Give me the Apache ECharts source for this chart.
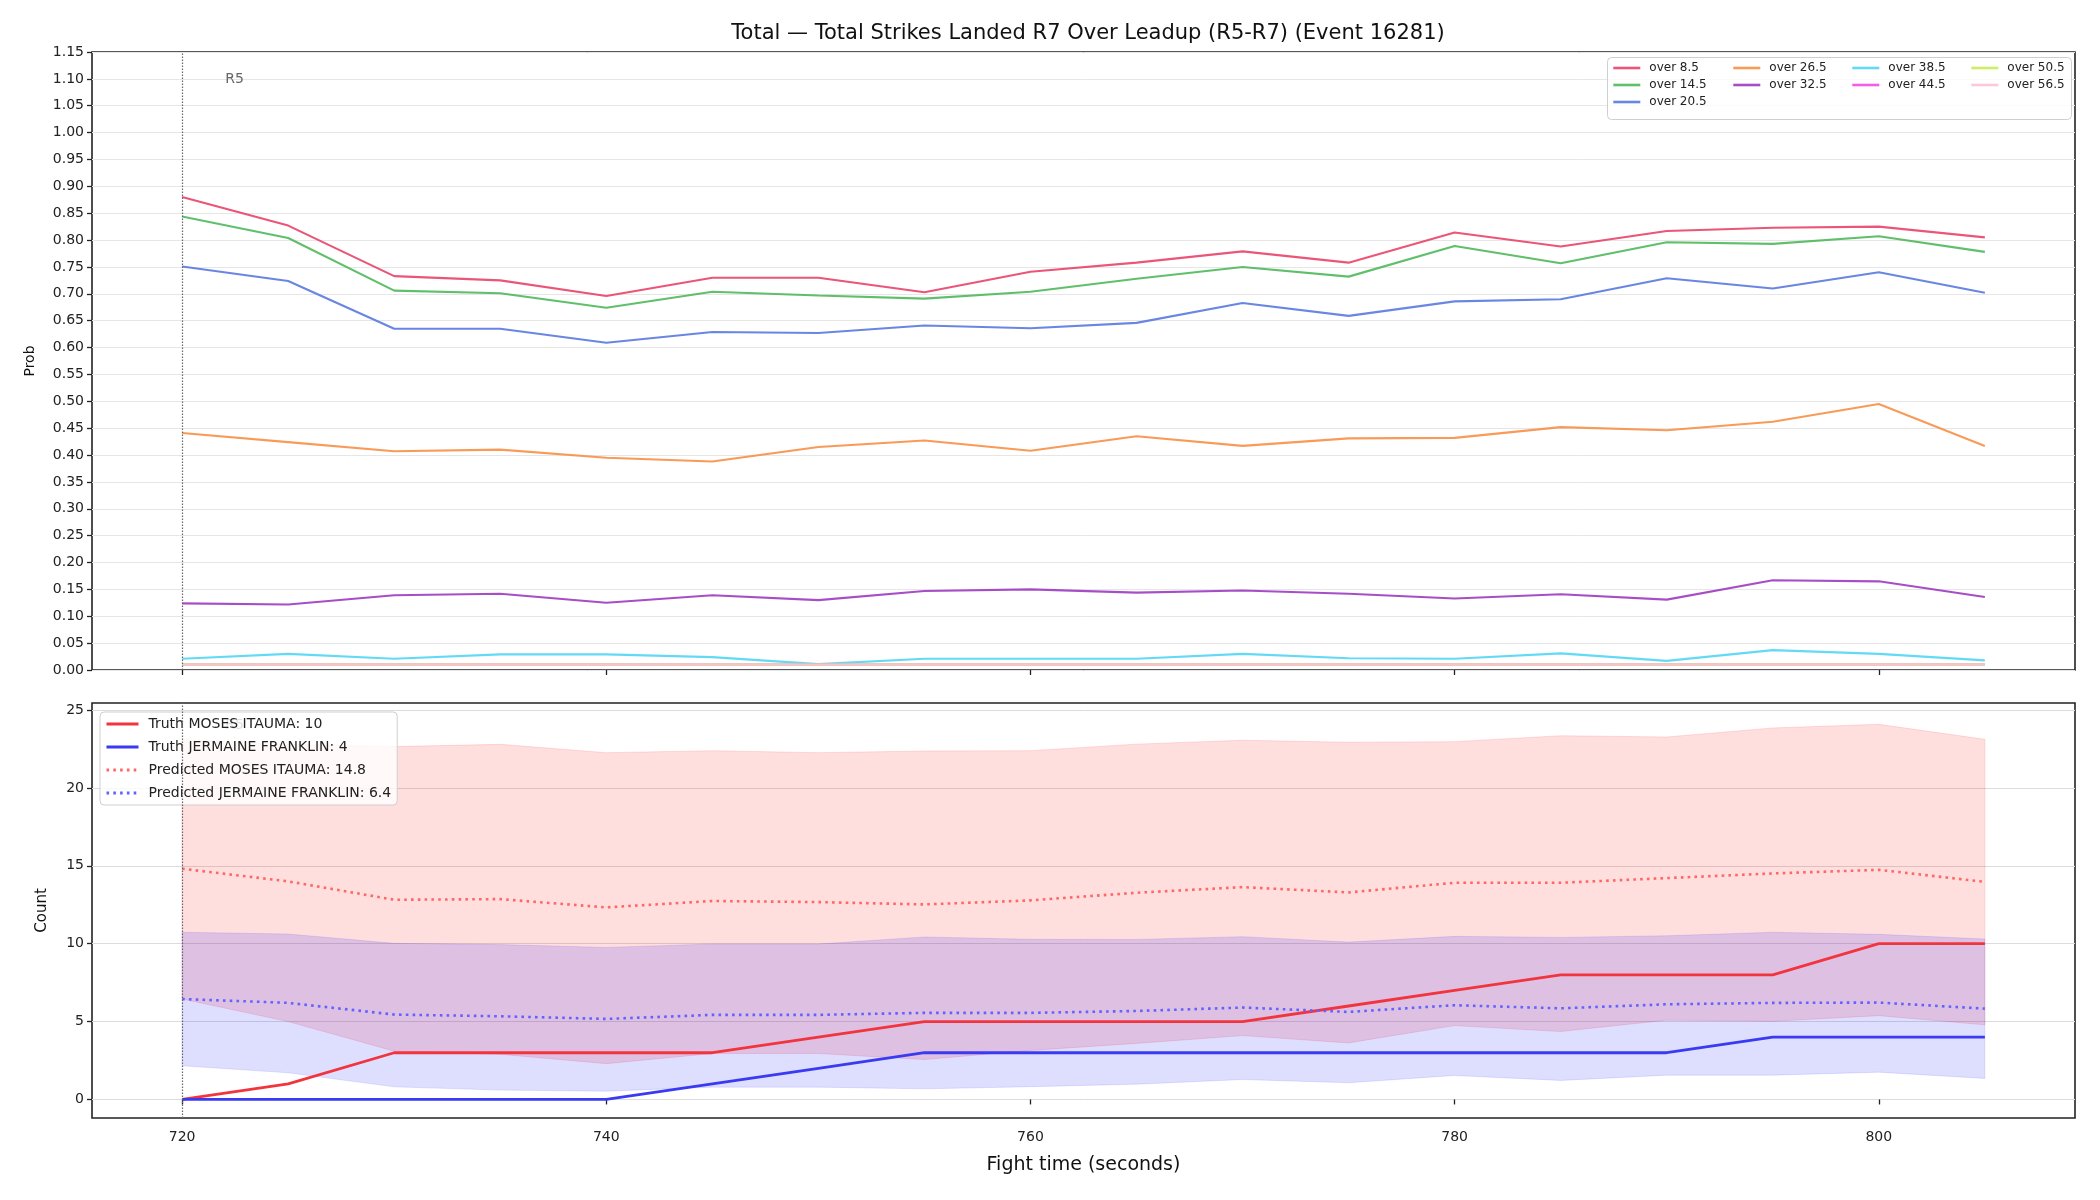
<!DOCTYPE html>
<html>
<head>
<meta charset="utf-8">
<script src="https://cdn.jsdelivr.net/npm/echarts@6/dist/echarts.min.js"></script>
<style>
  html, body { margin: 0; padding: 0; background: #fff; }
  #chart { width: 2100px; height: 1200px; }
</style>
</head>
<body>
<div id="chart"></div>
<script>
const times = [720, 725, 730, 735, 740, 745, 750, 755, 760, 765, 770, 775, 780, 785, 790, 795, 800, 805]
const xTicks = [720, 740, 760, 780, 800]
const countTicks = [0, 5, 10, 15, 20, 25]

// probability lines (top panel)
const overLabels = ['over 8.5', 'over 14.5', 'over 20.5', 'over 26.5', 'over 32.5', 'over 38.5', 'over 44.5', 'over 50.5', 'over 56.5']
const over8_5 = [0.880, 0.827, 0.733, 0.725, 0.696, 0.730, 0.730, 0.703, 0.741, 0.758, 0.779, 0.758, 0.814, 0.788, 0.817, 0.823, 0.825, 0.805]
const over14_5 = [0.844, 0.804, 0.706, 0.701, 0.674, 0.704, 0.697, 0.691, 0.704, 0.728, 0.750, 0.732, 0.789, 0.757, 0.796, 0.793, 0.807, 0.778]
const over20_5 = [0.751, 0.724, 0.635, 0.635, 0.609, 0.629, 0.627, 0.641, 0.636, 0.646, 0.683, 0.659, 0.686, 0.690, 0.729, 0.710, 0.740, 0.702]
const over26_5 = [0.441, 0.424, 0.407, 0.410, 0.395, 0.388, 0.415, 0.427, 0.408, 0.435, 0.417, 0.431, 0.432, 0.452, 0.446, 0.462, 0.495, 0.417]
const over32_5 = [0.124, 0.122, 0.139, 0.142, 0.125, 0.139, 0.130, 0.147, 0.150, 0.144, 0.148, 0.142, 0.133, 0.141, 0.131, 0.167, 0.165, 0.136]
const over38_5 = [0.021, 0.030, 0.021, 0.029, 0.029, 0.024, 0.011, 0.021, 0.021, 0.021, 0.030, 0.022, 0.021, 0.031, 0.017, 0.037, 0.030, 0.018]
const over44_5 = [0.01, 0.01, 0.01, 0.01, 0.01, 0.01, 0.01, 0.01, 0.01, 0.01, 0.01, 0.01, 0.01, 0.01, 0.01, 0.01, 0.01, 0.01]
const over50_5 = [0.01, 0.01, 0.01, 0.01, 0.01, 0.01, 0.01, 0.01, 0.01, 0.01, 0.01, 0.01, 0.01, 0.01, 0.01, 0.01, 0.01, 0.01]
const over56_5 = [0.01, 0.01, 0.01, 0.01, 0.01, 0.01, 0.01, 0.01, 0.01, 0.01, 0.01, 0.01, 0.01, 0.01, 0.01, 0.01, 0.01, 0.01]

// counts (bottom panel)
const mosesTruth = [0, 1, 3, 3, 3, 3, 4, 5, 5, 5, 5, 6, 7, 8, 8, 8, 10, 10]
const jermaineTruth = [0, 0, 0, 0, 0, 1, 2, 3, 3, 3, 3, 3, 3, 3, 3, 4, 4, 4]
const mosesPred = [14.81, 14.0, 12.82, 12.86, 12.33, 12.74, 12.67, 12.52, 12.78, 13.27, 13.63, 13.29, 13.91, 13.91, 14.21, 14.51, 14.74, 13.97]
const jermainePred = [6.45, 6.2, 5.45, 5.34, 5.17, 5.43, 5.43, 5.56, 5.56, 5.68, 5.9, 5.62, 6.05, 5.85, 6.11, 6.2, 6.22, 5.83]
const mosesHigh = [23.1, 22.8, 22.65, 22.8, 22.26, 22.39, 22.26, 22.37, 22.39, 22.81, 23.06, 22.93, 22.97, 23.35, 23.27, 23.85, 24.08, 23.12]
const mosesLow = [6.45, 5.0, 3.1, 2.9, 2.3, 2.95, 2.95, 2.56, 3.15, 3.6, 4.1, 3.63, 4.74, 4.36, 5.09, 5.02, 5.38, 4.79]
const jermaineHigh = [10.73, 10.62, 10.02, 9.94, 9.76, 9.98, 9.98, 10.43, 10.28, 10.27, 10.45, 10.1, 10.47, 10.4, 10.51, 10.73, 10.6, 10.3]
const jermaineLow = [2.16, 1.71, 0.81, 0.6, 0.53, 0.79, 0.79, 0.68, 0.82, 0.98, 1.28, 1.07, 1.54, 1.22, 1.56, 1.56, 1.75, 1.35]
const countNames = ['Truth MOSES ITAUMA: 10', 'Truth JERMAINE FRANKLIN: 4', 'Predicted MOSES ITAUMA: 14.8', 'Predicted JERMAINE FRANKLIN: 6.4']

const FONT = 'DejaVu Sans'
const overColors = ['#e8466c', '#52ba5e', '#5c7ce0', '#f7914a', '#9f3fc2', '#55d7f4', '#f24fe6', '#c6ee55', '#fbc3d7']
const overValues = [over8_5, over14_5, over20_5, over26_5, over32_5, over38_5, over44_5, over50_5, over56_5]

const pairs = arr => times.map((t, i) => [t, arr[i]])

const chart = echarts.init(document.getElementById('chart'), null, { renderer: 'canvas' })

const axisText = { fontFamily: FONT, fontSize: 14, color: '#222' }
const tickStyle = { show: true, length: 5, lineStyle: { color: '#222', width: 1.3 } }
const markerLine = {
  silent: true,
  symbol: ['none', 'none'],
  label: { show: false },
  lineStyle: { type: [1.5, 1.5], color: '#666', width: 1.2, opacity: 1 },
  emphasis: { disabled: true },
  data: [{ xAxis: 720 }]
}
const r5Label = y => ({
  silent: true,
  z: 1,
  symbol: 'circle',
  symbolSize: 0,
  label: { show: true, formatter: 'R5', position: 'right', distance: 5, color: '#666', fontSize: 14, fontFamily: FONT },
  data: [{ coord: [721.8, y] }]
})

const topSeries = overLabels.map((name, i) => ({
  name,
  type: 'line',
  xAxisIndex: 0,
  yAxisIndex: 0,
  data: pairs(overValues[i]),
  symbol: 'none',
  color: overColors[i],
  lineStyle: { width: 2.1, color: overColors[i], opacity: 0.92 },
  z: 3
}))
topSeries[0].markLine = markerLine
topSeries[0].markPoint = r5Label(1.1)

// shaded min/max band drawn as one polygon through the axis scales
const band = (hi, lo, fill, edge) => ({
  type: 'custom',
  xAxisIndex: 1,
  yAxisIndex: 1,
  silent: true,
  z: 1,
  data: [[times[0], lo[0]]],
  renderItem: (params, api) => {
    const upper = times.map((t, i) => api.coord([t, hi[i]]))
    const lower = times.map((t, i) => api.coord([t, lo[i]])).reverse()
    return {
      type: 'polygon',
      shape: { points: upper.concat(lower) },
      style: { fill, stroke: edge, lineWidth: 1 }
    }
  }
})

const bottomSeries = [
  band(mosesHigh, mosesLow, 'rgba(255,0,0,0.13)', 'rgba(255,0,0,0.12)'),
  band(jermaineHigh, jermaineLow, 'rgba(0,0,255,0.13)', 'rgba(0,0,255,0.1)'),
  { name: countNames[0], type: 'line', xAxisIndex: 1, yAxisIndex: 1, data: pairs(mosesTruth), symbol: 'none', color: '#f2343f', lineStyle: { width: 2.8, color: '#f2343f' }, z: 4 },
  { name: countNames[1], type: 'line', xAxisIndex: 1, yAxisIndex: 1, data: pairs(jermaineTruth), symbol: 'none', color: '#3a3af2', lineStyle: { width: 2.8, color: '#3a3af2' }, z: 4 },
  { name: countNames[2], type: 'line', xAxisIndex: 1, yAxisIndex: 1, data: pairs(mosesPred), symbol: 'none', color: '#ff6666', lineStyle: { width: 2.6, color: '#ff6666', type: [2.6, 4.2] }, z: 4 },
  { name: countNames[3], type: 'line', xAxisIndex: 1, yAxisIndex: 1, data: pairs(jermainePred), symbol: 'none', color: '#6262ff', lineStyle: { width: 2.6, color: '#6262ff', type: [2.6, 4.2] }, z: 4 }
]
bottomSeries[3].markLine = markerLine
bottomSeries[3].markPoint = r5Label(24.0)

// matplotlib-style legend: 4 columns filled column by column (3, 2, 2, 2)
const legendCols = [[0, 1, 2], [3, 4], [5, 6], [7, 8]]
const colLeft = [1612, 1732, 1851, 1970]
const legendBase = {
  orient: 'vertical',
  top: 62,
  padding: 0,
  itemWidth: 27,
  itemHeight: 14,
  itemGap: 5,
  itemStyle: { opacity: 0, borderWidth: 0 },
  lineStyle: { width: 2.6 },
  textStyle: { fontFamily: FONT, fontSize: 12, color: '#222', padding: [0, 0, 0, 4] }
}
const topLegends = legendCols.map((idx, c) => ({
  ...legendBase,
  left: colLeft[c],
  data: idx.map(i => overLabels[i])
}))

const option = {
  animation: false,
  backgroundColor: '#fff',
  title: {
    text: 'Total — Total Strikes Landed R7 Over Leadup (R5-R7) (Event 16281)',
    left: 1083,
    textAlign: 'center',
    top: 18,
    textStyle: { fontFamily: FONT, fontSize: 21, fontWeight: 'normal', color: '#111' }
  },
  graphic: [
    {
      type: 'rect',
      left: 1607,
      top: 57,
      z: 3,
      silent: true,
      shape: { width: 464, height: 62, r: 4 },
      style: { fill: 'rgba(255,255,255,0.8)', stroke: '#cfcfcf', lineWidth: 1 }
    }
  ],
  grid: [
    { left: 92, right: 25, top: 52, height: 618, show: true, borderColor: '#222', borderWidth: 1.6, backgroundColor: 'transparent' },
    { left: 92, right: 25, top: 703, height: 415, show: true, borderColor: '#222', borderWidth: 1.6, backgroundColor: 'transparent' }
  ],
  legend: [
    ...topLegends,
    {
      data: countNames,
      orient: 'vertical',
      left: 100,
      top: 712,
      padding: [5, 6, 5, 5],
      itemWidth: 32,
      itemHeight: 14,
      itemGap: 9,
      itemStyle: { opacity: 0, borderWidth: 0 },
      lineStyle: { width: 3 },
      textStyle: { fontFamily: FONT, fontSize: 14, color: '#222', padding: [0, 0, 0, 5] },
      backgroundColor: 'rgba(255,255,255,0.8)',
      borderColor: '#cfcfcf',
      borderWidth: 1,
      borderRadius: 4
    }
  ],
  xAxis: [
    {
      type: 'value', gridIndex: 0, min: 715.75, max: 809.25,
      axisLine: { show: false },
      axisTick: { ...tickStyle, customValues: xTicks },
      axisLabel: { show: false, customValues: xTicks },
      splitLine: { show: false }
    },
    {
      type: 'value', gridIndex: 1, min: 715.75, max: 809.25,
      name: 'Fight time (seconds)',
      nameLocation: 'middle',
      nameGap: 38,
      nameTextStyle: { fontFamily: FONT, fontSize: 19, color: '#111' },
      axisLine: { show: false },
      axisTick: { ...tickStyle, customValues: xTicks },
      axisLabel: { ...axisText, margin: 12, customValues: xTicks },
      splitLine: { show: false }
    }
  ],
  yAxis: [
    {
      type: 'value', gridIndex: 0, min: 0, max: 1.15, interval: 0.05,
      name: 'Prob',
      nameLocation: 'middle',
      nameGap: 55,
      nameTextStyle: { fontFamily: FONT, fontSize: 14, color: '#111' },
      axisLine: { show: false },
      axisTick: tickStyle,
      axisLabel: { ...axisText, margin: 8, formatter: v => v.toFixed(2) },
      splitLine: { show: true, lineStyle: { color: '#e6e6e6', width: 1 } }
    },
    {
      type: 'value', gridIndex: 1, min: -1.19, max: 25.45,
      name: 'Count',
      nameLocation: 'middle',
      nameGap: 42,
      nameTextStyle: { fontFamily: FONT, fontSize: 15, color: '#111' },
      axisLine: { show: false },
      axisTick: { ...tickStyle, customValues: countTicks },
      axisLabel: { ...axisText, margin: 8, customValues: countTicks },
      splitLine: { show: true, lineStyle: { color: '#dcdcdc', width: 1 } }
    }
  ],
  series: [...topSeries, ...bottomSeries]
}

chart.setOption(option)
</script>
</body>
</html>
